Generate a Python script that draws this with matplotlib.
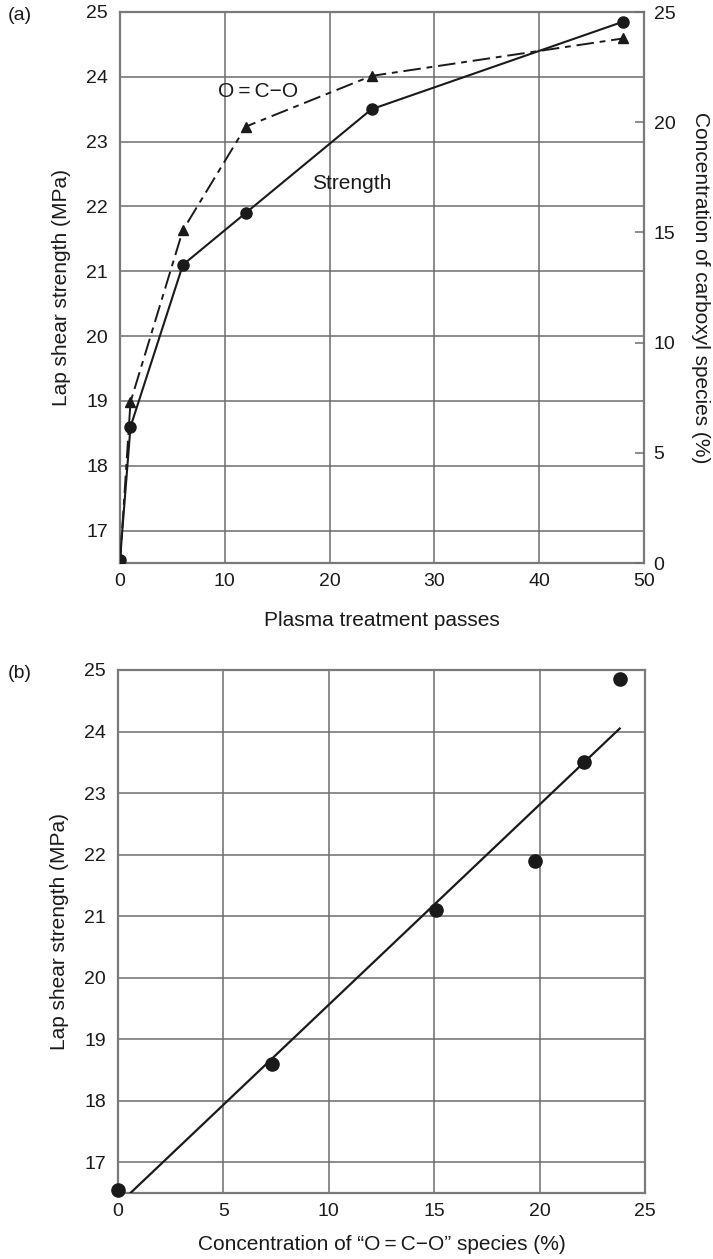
import numpy as np
import matplotlib
matplotlib.use("Agg")
import matplotlib.pyplot as plt

plt.rcParams['font.family'] = ['Liberation Sans', 'DejaVu Sans']

# ---- data ----
passes = [0, 1, 6, 12, 24, 48]
strength = [16.55, 18.6, 21.1, 21.9, 23.5, 24.85]
carboxyl = [0.0, 7.3, 15.1, 19.8, 22.1, 23.8]

ticks_a_x = [0, 10, 20, 30, 40, 50]
ticks_y = [17, 18, 19, 20, 21, 22, 23, 24, 25]
ticks_right = [0, 5, 10, 15, 20, 25]
ticks_b_x = [0, 5, 10, 15, 20, 25]

GRID = '#6e6e6e'
SPINE = '#7a7a7a'
INK = '#1a1a1a'
TFS = 14   # tick labels
LFS = 15   # axis labels / annotations

fig = plt.figure(figsize=(7.13, 12.59), dpi=100)
W, H = 713, 1259

def axes_px(l, t, r, b):
    return fig.add_axes([l / W, 1 - b / H, (r - l) / W, (b - t) / H])

def style(ax):
    for s in ax.spines.values():
        s.set_color(SPINE)
        s.set_linewidth(1.6)
    ax.grid(True, color=GRID, linewidth=1.1)
    ax.tick_params(axis='both', length=0, labelsize=TFS, colors=INK)
    ax.tick_params(axis='x', pad=7)
    ax.tick_params(axis='y', pad=8.5)
    ax.set_axisbelow(True)

# ---- panel (a) ----
ax = axes_px(120, 12, 644, 563)
style(ax)
ax.set_xlim(0, 50)
ax.set_ylim(16.5, 25)
ax.set_xticks(ticks_a_x)
ax.set_yticks(ticks_y)
ax.plot(passes, strength, color=INK, lw=1.5, marker='o', ms=8, mfc=INK, mec=INK, zorder=5)
ax.set_ylabel('Lap shear strength (MPa)', fontsize=LFS, color=INK, labelpad=11)
ax.set_xlabel('Plasma treatment passes', fontsize=LFS, color=INK, labelpad=15)

ax2 = ax.twinx()
ax2.set_ylim(0, 25)
ax2.set_yticks(ticks_right)
for s in ax2.spines.values():
    s.set_visible(False)
ax2.tick_params(axis='y', direction='in', length=6.5, width=1.1,
                labelsize=TFS, pad=7, colors=INK)
ax2.tick_params(axis='y', color=GRID)
ax2.plot(passes, carboxyl, color=INK, lw=1.4, dashes=(9, 3, 3, 3),
         marker='^', ms=7.5, mfc=INK, mec=INK, zorder=5)
ax2.set_ylabel('Concentration of carboxyl species (%)', fontsize=LFS, color=INK,
               rotation=270, labelpad=25)

ax.text(13.2, 23.77, 'O\u2009=\u2009C\u2212O', fontsize=LFS, ha='center', va='center',
        color=INK, zorder=6)
ax.text(22.1, 22.36, 'Strength', fontsize=LFS, ha='center', va='center', color=INK, zorder=6)
fig.text(20 / W, 1 - 15 / H, '(a)', fontsize=TFS, ha='center', va='center', color=INK)

# ---- panel (b) ----
bx = axes_px(118, 670, 645, 1193)
style(bx)
bx.set_xlim(0, 25)
bx.set_ylim(16.5, 25)
bx.set_xticks(ticks_b_x)
bx.set_yticks(ticks_y)
bx.plot(carboxyl, strength, linestyle='none', marker='o', ms=9.5, mfc=INK, mec=INK,
        zorder=5, clip_on=False)
slope, icpt = np.polyfit(carboxyl, strength, 1)
x0 = (16.5 - icpt) / slope
xs = np.array([x0, max(carboxyl)])
bx.plot(xs, slope * xs + icpt, color=INK, lw=1.6, zorder=4)
bx.set_ylabel('Lap shear strength (MPa)', fontsize=LFS, color=INK, labelpad=11)
bx.set_xlabel('Concentration of \u201cO\u2009=\u2009C\u2212O\u201d species (%)', fontsize=LFS,
              color=INK, labelpad=11)
fig.text(20 / W, 1 - 674 / H, '(b)', fontsize=TFS, ha='center', va='center', color=INK)

fig.savefig('out.png', dpi=100)
